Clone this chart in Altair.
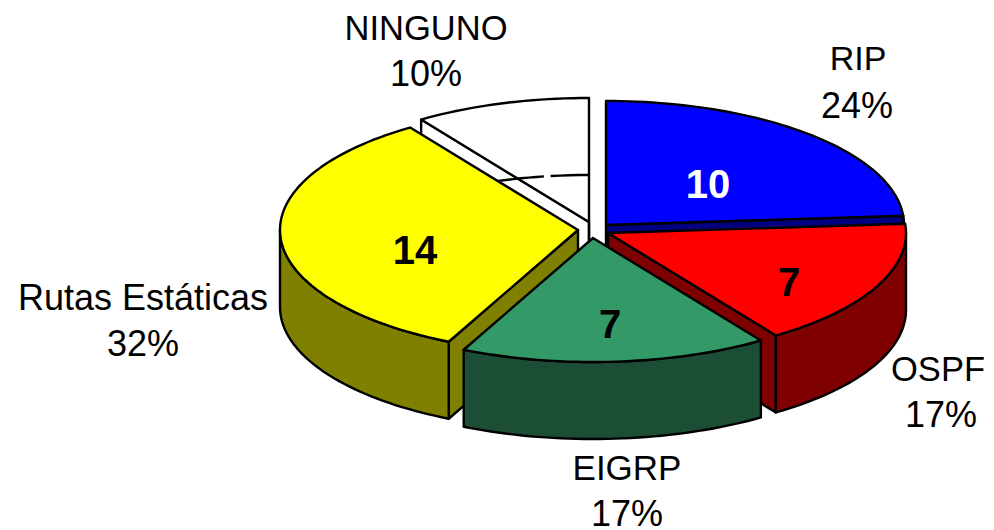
import math
import altair as alt

# ---- chart values ----
names = ["RIP", "OSPF", "EIGRP", "Rutas Estáticas", "NINGUNO"]
values = [10, 7, 7, 14, 4]
percents = ["24%", "17%", "17%", "32%", "10%"]

# ---- styles and layout (pixels in the page) ----
top_colors = ["#0000ff", "#ff0000", "#339966", "#ffff00", "#ffffff"]
wall_colors = ["#000080", "#7f0000", "#1c4d35", "#808000", "#ffffff"]
centers = [(606, 225), (608, 233), (593, 238), (578, 230), (589, 222)]
RX, RY, DEPTH = 298, 124, 77
name_pos = [(858, 70), (938, 381), (627, 480), (143, 310), (426, 40)]
pct_pos = [(857, 118), (941, 427), (627, 526), (143, 356), (426, 86)]
name_sizes = [34, 34.5, 35, 36, 34.5]
value_pos = [(708, 198), (789, 296), (610, 338), (415, 264)]
FONT = "Liberation Sans"

total = sum(values)
angles = [0]
for v in values:
    angles.append(angles[-1] + 360 * v / total)


def pt(c, a, dz=0):
    r = math.radians(a)
    return [c[0] + RX * math.sin(r), c[1] - RY * math.cos(r) + dz]


def arc(c, a0, a1, dz=0):
    n = max(2, int(abs(a1 - a0) / 1.5))
    return [pt(c, a0 + (a1 - a0) * i / n, dz) for i in range(n + 1)]


def poly(coords, fill):
    return {"type": "Feature", "properties": {"fill": fill},
            "geometry": {"type": "Polygon", "coordinates": [coords + [coords[0]]]}}


def line(coords):
    return {"type": "Feature", "properties": {"fill": "transparent"},
            "geometry": {"type": "LineString", "coordinates": coords}}


def top(i):
    c = centers[i]
    return poly([list(c)] + arc(c, angles[i], angles[i + 1]), top_colors[i])


def cut_wall(i, a):
    c = centers[i]
    p = pt(c, a)
    return poly([list(c), p, [p[0], p[1] + DEPTH], [c[0], c[1] + DEPTH]], wall_colors[i])


def outer_wall(i, a0, a1):
    c = centers[i]
    return poly(arc(c, a0, a1) + arc(c, a1, a0, DEPTH), wall_colors[i])


features = []
# NINGUNO: open, see-through slice at the back
c4 = centers[4]
features += [cut_wall(4, angles[4]), top(4)]
features += [line(arc(c4, angles[4], 351.3, DEPTH)), line(arc(c4, 352.6, 360, DEPTH))]
features += [line([list(c4), [c4[0], c4[1] + DEPTH]])]
# RIP
features += [cut_wall(0, angles[1]), outer_wall(0, angles[1], 90), top(0)]
# Rutas Estáticas
features += [cut_wall(3, angles[3]), outer_wall(3, angles[3], 270), top(3)]
# OSPF
features += [cut_wall(1, angles[2]), outer_wall(1, max(angles[1], 90), angles[2]), top(1)]
# EIGRP
features += [outer_wall(2, angles[2], angles[3]), top(2)]

shapes = alt.Chart(alt.InlineData(values=features)).mark_geoshape(
    filled=True, stroke="black", strokeWidth=2.4, strokeJoin="round"
).encode(fill=alt.Fill("properties.fill:N", scale=None)).project(
    type="identity", scale=1, translate=[-8, -8]
)

labels = []
for n, p, (x1, y1), (x2, y2), s in zip(names, percents, name_pos, pct_pos, name_sizes):
    labels.append({"t": n, "px": x1 - 8, "py": y1 - 8, "fs": s})
    labels.append({"t": p, "px": x2 - 8, "py": y2 - 8, "fs": 36})

label_text = alt.Chart(alt.Data(values=labels)).mark_text(
    font=FONT, align="center", baseline="alphabetic", color="black"
).encode(x=alt.X("px:Q", scale=None, axis=None), y=alt.Y("py:Q", scale=None, axis=None), text="t:N",
         size=alt.Size("fs:Q", scale=None))

nums = [{"t": str(v), "px": x - 8, "py": y - 8, "col": col}
        for v, (x, y), col in zip(values, value_pos, ["white", "black", "black", "black"])]
num_text = alt.Chart(alt.Data(values=nums)).mark_text(
    font=FONT, fontSize=40, fontWeight="bold", align="center", baseline="alphabetic"
).encode(x=alt.X("px:Q", scale=None, axis=None), y=alt.Y("py:Q", scale=None, axis=None), text="t:N",
         color=alt.Color("col:N", scale=None))

chart = alt.layer(shapes, label_text, num_text).properties(
    width=978, height=522, padding=0, background="white",
    autosize=alt.AutoSizeParams(type="none")
).configure_view(strokeWidth=0, stroke=None)

chart.save("out.html", embed_options={"renderer": "svg", "actions": False})
